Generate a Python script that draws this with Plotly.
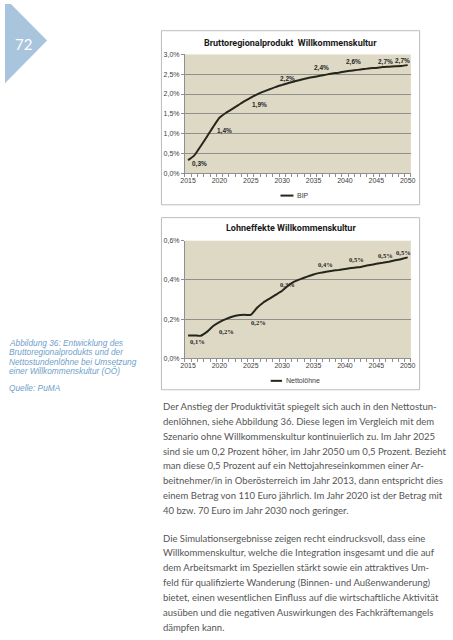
import plotly.graph_objects as go

# ---------------- data ----------------
years = list(range(2015, 2051))
bip = [0.33, 0.45, 0.68, 0.92, 1.17, 1.40, 1.52, 1.62, 1.72, 1.82, 1.91, 1.99, 2.06, 2.12,
       2.18, 2.23, 2.28, 2.32, 2.36, 2.40, 2.43, 2.46, 2.49, 2.52, 2.54, 2.57, 2.59, 2.61,
       2.63, 2.65, 2.66, 2.68, 2.69, 2.70, 2.71, 2.73]
netto = [0.117, 0.117, 0.115, 0.135, 0.165, 0.185, 0.200, 0.212, 0.220, 0.222, 0.222, 0.258,
         0.285, 0.305, 0.325, 0.345, 0.372, 0.392, 0.405, 0.417, 0.428, 0.436, 0.442, 0.447,
         0.451, 0.456, 0.461, 0.464, 0.470, 0.476, 0.482, 0.487, 0.493, 0.500, 0.507, 0.515]
label_years = [2015, 2020, 2025, 2030, 2035, 2040, 2045, 2050]
x_ticks = [2015, 2020, 2025, 2030, 2035, 2040, 2045, 2050]
y1_ticks = [0.0, 0.5, 1.0, 1.5, 2.0, 2.5, 3.0]
y2_ticks = [0.0, 0.2, 0.4, 0.6]
title1 = "Bruttoregionalprodukt  Willkommenskultur"
title2 = "Lohneffekte Willkommenskultur"
legend1 = "BIP"
legend2 = "Nettolöhne"
page_no = "72"
caption = ["Abbildung 36: Entwicklung des", "Bruttoregionalprodukts und der",
           "Nettostundenlöhne bei Umsetzung", "einer Willkommenskultur (OÖ)"]
source = "Quelle: PuMA"
para1 = ["Der Anstieg der Produktivität spiegelt sich auch in den Nettostun-",
         "denlöhnen, siehe Abbildung 36. Diese legen im Vergleich mit dem",
         "Szenario ohne Willkommenskultur kontinuierlich zu. Im Jahr 2025",
         "sind sie um 0,2 Prozent höher, im Jahr 2050 um 0,5 Prozent. Bezieht",
         "man diese 0,5 Prozent auf ein Nettojahreseinkommen einer Ar-",
         "beitnehmer/in in Oberösterreich im Jahr 2013, dann entspricht dies",
         "einem Betrag von 110 Euro jährlich. Im Jahr 2020 ist der Betrag mit",
         "40 bzw. 70 Euro im Jahr 2030 noch geringer."]
para2 = ["Die Simulationsergebnisse zeigen recht eindrucksvoll, dass eine",
         "Willkommenskultur, welche die Integration insgesamt und die auf",
         "dem Arbeitsmarkt im Speziellen stärkt sowie ein attraktives Um-",
         "feld für qualifizierte Wanderung (Binnen- und Außenwanderung)",
         "bietet, einen wesentlichen Einfluss auf die wirtschaftliche Aktivität",
         "ausüben und die negativen Auswirkungen des Fachkräftemangels",
         "dämpfen kann."]

# ---------------- layout helpers ----------------
W, H = 453, 640
def px(x): return x / W
def py(y): return 1 - y / H

LINE = "#25251c"
GRID = "#8f8f8f"
TICKF = dict(family="Liberation Sans", size=7, color="#404040")

fig = go.Figure()
fig.add_trace(go.Scatter(x=years, y=bip, mode="lines", line=dict(color=LINE, width=2, shape="spline", smoothing=0.5),
                         xaxis="x", yaxis="y", showlegend=False, hoverinfo="skip"))
fig.add_trace(go.Scatter(x=years, y=netto, mode="lines", line=dict(color=LINE, width=2, shape="spline", smoothing=0.5),
                         xaxis="x2", yaxis="y2", showlegend=False, hoverinfo="skip"))

def xaxis(dom, anchor):
    return dict(domain=dom, anchor=anchor, range=[2014.5, 2050.5], tickvals=x_ticks,
                ticktext=[str(v) for v in x_ticks], showgrid=False, zeroline=False,
                showline=True, linecolor=GRID, linewidth=1, ticks="", tickfont=TICKF,
                minor=dict(tick0=2014.5, dtick=1, ticks="outside", ticklen=3, tickcolor=GRID, showgrid=False),
                fixedrange=True)

def yaxis(dom, anchor, rng, tv):
    return dict(domain=dom, anchor=anchor, range=rng, tickvals=tv,
                ticktext=[f"{v:.1f}%".replace(".", ",") for v in tv],
                showgrid=True, gridcolor=GRID, gridwidth=1, zeroline=False,
                showline=True, linecolor=GRID, linewidth=1, ticks="outside", ticklen=3,
                tickcolor=GRID, tickfont=TICKF, fixedrange=True)

fig.update_layout(
    width=W, height=H, margin=dict(l=0, r=0, t=0, b=0),
    paper_bgcolor="white", plot_bgcolor="#ddd9c4",
    xaxis=xaxis([px(184), px(415)], "y"),
    yaxis=yaxis([py(171), py(51)], "x", [0, 3], y1_ticks),
    xaxis2=xaxis([px(184), px(415)], "y2"),
    yaxis2=yaxis([py(358.3), py(239.3)], "x2", [0, 0.6], y2_ticks),
    showlegend=False,
)

shapes = []
ann = []

def text_at(txt, x, y, font, xanchor="center"):
    ann.append(dict(text=txt, x=px(x), y=py(y), xref="paper", yref="paper", showarrow=False,
                    xanchor=xanchor, yanchor="middle", font=font))

# chart boxes
for (y0, y1) in [(27, 203), (216, 390)]:
    shapes.append(dict(type="rect", xref="paper", yref="paper", x0=px(160), x1=px(424),
                       y0=py(y1), y1=py(y0), line=dict(color="#bdbdbd", width=1), layer="below"))
# page corner
shapes.append(dict(type="path", xref="paper", yref="paper", layer="below",
                   path=f"M {px(0)},{py(0)} L {px(6)},{py(0)} L {px(43)},{py(37)} L {px(0)},{py(80)} Z",
                   fillcolor="#a8c5dd", line=dict(width=0)))
text_at(page_no, 19, 40, dict(family="Lato", size=15, color="white"))
# titles
TF = dict(family="Roboto", size=9, color="#1a1a1a")
text_at(f"<b>{title1}</b>", 292, 39, TF)
text_at(f"<b>{title2}</b>", 292, 226, TF)
# legends
for (x0, x1, yy, txt) in [(281.7, 295, 193.7, legend1), (271.7, 283.3, 381, legend2)]:
    shapes.append(dict(type="line", xref="paper", yref="paper", x0=px(x0), x1=px(x1),
                       y0=py(yy), y1=py(yy), line=dict(color=LINE, width=2)))
    text_at(txt, x1 + 1.5, yy, dict(family="Liberation Sans", size=7, color="#404040"), "left")

# data labels
off1 = [(11, -4), (5, -13), (9, -7), (5, 6), (8, 9), (9, 9), (9, 6), (-5, 4)]
off2 = [(9, -6), (7, -9), (8, -8), (5, 6), (12, 10), (12, 9.5), (9, 8), (-4, 5)]
for yr, (dx, dy) in zip(label_years, off1):
    v = bip[years.index(yr)]
    ann.append(dict(text=f"<b>{v:.1f}%</b>".replace(".", ","), x=yr, y=v, xref="x", yref="y",
                    xshift=dx, yshift=dy, showarrow=False, xanchor="center", yanchor="middle",
                    font=dict(family="Liberation Sans", size=6.5, color="#262626")))
for yr, (dx, dy) in zip(label_years, off2):
    v = netto[years.index(yr)]
    ann.append(dict(text=f"<b>{v:.1f}%</b>".replace(".", ","), x=yr, y=v, xref="x2", yref="y2",
                    xshift=dx, yshift=dy, showarrow=False, xanchor="center", yanchor="middle",
                    font=dict(family="Liberation Serif", size=6.5, color="#262626")))

# sidebar caption
CF = dict(family="Liberation Sans", size=8.3, color="#6f9fca")
for i, line in enumerate(caption):
    text_at(f"<i>{line}</i>", 2, 343 + 9.3 * i, CF, "left")
text_at(f"<i>{source}</i>", 2, 388, CF, "left")

# body text
BF = dict(family="Lato", size=9.5, color="#555555")
for i, line in enumerate(para1):
    text_at(line, 160, 407 + 15.0 * i, BF, "left")
for i, line in enumerate(para2):
    text_at(line, 160, 540 + 15.0 * i, BF, "left")

fig.update_layout(shapes=shapes, annotations=ann)
fig.write_html("out.html", config={"displayModeBar": False},
               post_script="document.body.style.margin='0';document.body.style.overflow='hidden';")
